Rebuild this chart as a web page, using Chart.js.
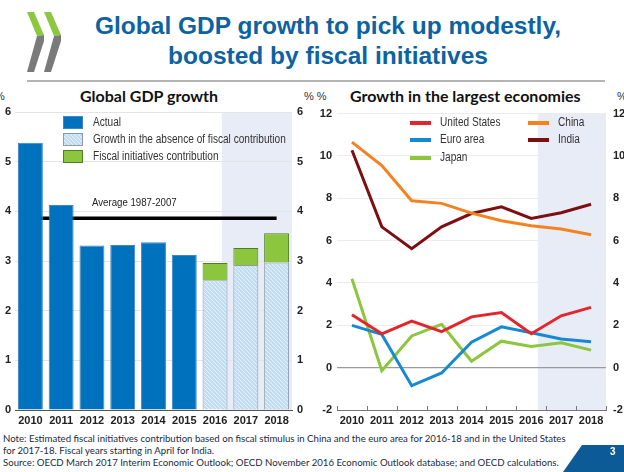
<!DOCTYPE html>
<html>
<head>
<meta charset="utf-8">
<script src="https://cdn.jsdelivr.net/npm/chart.js@4.4.1/dist/chart.umd.min.js"></script>
<style>
  body { margin:0; width:624px; height:472px; overflow:hidden; position:relative; background:#fff; font-family:'Liberation Sans', Arial, sans-serif; }
  .abs { position:absolute; white-space:nowrap; }
  #title { left:40px; width:576px; top:11px; text-align:center; color:#0d63a2; font:bold 24.5px/30px 'Liberation Sans', Arial, sans-serif; }
  #rule { left:27px; top:80px; width:578px; height:2px; background:#b4b4b4; }
  .sub { top:86px; font:bold 16px/20px Lato, 'Open Sans', sans-serif; color:#111; }
  .unit { top:90px; font:11px/12px 'Liberation Sans', sans-serif; color:#333; }
  .note { left:3px; font:9.65px/12px Lato, 'Noto Sans', sans-serif; color:#1c2a44; }
</style>
</head>
<body>
<svg class="abs" style="left:0;top:0" width="70" height="80">
  <polygon points="27,12 34,12 44,35 37,36" fill="#8dc63f"/>
  <polygon points="37,36 44,35 44,41 34,72 27,72" fill="#7a7a7a"/>
  <polygon points="44,12 51,12 61,35 54,36" fill="#8dc63f"/>
  <polygon points="54,36 61,35 61,41 51,72 44,72" fill="#7a7a7a"/>
</svg>
<div id="title" class="abs">Global GDP growth to pick up modestly,<br>boosted by fiscal initiatives</div>
<div id="rule" class="abs"></div>

<div class="abs sub" style="left:80px">Global GDP growth</div>
<div class="abs sub" style="left:350px">Growth in the largest economies</div>
<div class="abs unit" style="left:-5px">%</div>
<div class="abs unit" style="left:304px">% %</div>
<div class="abs unit" style="left:617px">%</div>

<canvas id="gdp" class="abs" style="left:0;top:100px"></canvas>
<canvas id="eco" class="abs" style="left:312px;top:100px"></canvas>

<div class="abs note" style="top:432px">Note: Estimated fiscal initiatives contribution based on fiscal stimulus in China and the euro area for 2016-18 and in the United States</div>
<div class="abs note" style="top:444px">for 2017-18. Fiscal years starting in April for India.</div>
<div class="abs note" style="top:456px">Source: OECD March 2017 Interim Economic Outlook; OECD November 2016 Economic Outlook database; and OECD calculations.</div>

<svg class="abs" style="left:0;top:0" width="624" height="472" pointer-events="none">
  <polygon points="582,445 624,445 624,472 563,472" fill="#0c5b96"/>
  <text x="610" y="455" fill="#fff" font-family="Liberation Sans, Arial" font-weight="bold" font-size="10">3</text>
</svg>

<script>
// ---- data ----
const years = ['2010', '2011', '2012', '2013', '2014', '2015', '2016', '2017', '2018'];

const actual   = [5.38, 4.13, 3.31, 3.32, 3.38, 3.12, null, null, null];
const noFiscal = [null, null, null, null, null, null, 2.61, 2.92, 2.97];
const fiscal   = [null, null, null, null, null, null, 0.35, 0.34, 0.59];
const avg8707  = [3.86, 3.86, 3.86, 3.86, 3.86, 3.86, 3.86, 3.86, 3.86];
const gdpTicks = [0, 1, 2, 3, 4, 5, 6];

const usa   = [2.5, 1.6, 2.2, 1.7, 2.4, 2.6, 1.6, 2.45, 2.85];
const euro  = [2.0, 1.57, -0.85, -0.25, 1.2, 1.93, 1.65, 1.35, 1.22];
const japan = [4.2, -0.15, 1.5, 2.05, 0.3, 1.25, 1.0, 1.18, 0.83];
const china = [10.65, 9.55, 7.88, 7.76, 7.3, 6.94, 6.7, 6.55, 6.28];
const india = [10.27, 6.65, 5.62, 6.65, 7.28, 7.6, 7.05, 7.32, 7.72];
const ecoTicks = [-2, 0, 2, 4, 6, 8, 10, 12];

const projFrom = 6.22; // projection shading starts a bit after 2016

const sans = "'Liberation Sans', Arial, sans-serif";
const tickFont = { family: sans, size: 11, weight: 'bold' };

// no narrow font installed: squeeze text horizontally instead
function narrowText(ctx, text, x, y) {
    ctx.save();
    ctx.translate(x, y);
    ctx.scale(0.84, 1);
    ctx.fillText(text, 0, 0);
    ctx.restore();
}

// light blue with fine diagonal hatching
function hatch(ctx) {
    const c = document.createElement('canvas');
    c.width = c.height = 4;
    const g = c.getContext('2d');
    g.fillStyle = '#c2ddf1';
    g.fillRect(0, 0, 4, 4);
    g.strokeStyle = 'rgba(255,255,255,0.6)';
    g.lineWidth = 1;
    g.beginPath(); g.moveTo(0, 0); g.lineTo(4, 4); g.stroke();
    return ctx.createPattern(c, 'repeat');
}

// shaded projection period
const shade = {
    id: 'shade',
    beforeDraw(chart) {
        const { ctx, chartArea: a, scales: { x } } = chart;
        const x0 = x.getPixelForValue(projFrom);
        ctx.save();
        ctx.fillStyle = '#e8ecf6';
        ctx.fillRect(x0, a.top, a.right - x0, a.bottom - a.top);
        ctx.restore();
    }
};

function yAxes(ticks, side, w, pad, grid) {
    return {
        position: side,
        min: ticks[0], max: ticks[ticks.length - 1],
        afterFit: s => { s.width = w; },
        afterBuildTicks: s => { s.ticks = ticks.map(v => ({ value: v })); },
        border: { display: false },
        grid: grid || { display: false, drawTicks: false },
        ticks: { font: tickFont, color: '#222', padding: pad }
    };
}

const xAxis = (borderColor, extra) => Object.assign({
    afterFit: s => { s.height = 22; },
    grid: { display: false, drawTicks: false },
    border: { display: true, color: borderColor, width: 1 },
    ticks: { font: tickFont, color: '#222', padding: 4, maxRotation: 0 }
}, extra);

// ---- left: global GDP growth ----
const gdpCanvas = document.getElementById('gdp');
gdpCanvas.width = 320; gdpCanvas.height = 332;
const gctx = gdpCanvas.getContext('2d');

const gdpLegend = {
    id: 'gdpLegend',
    afterDraw(chart) {
        const { ctx } = chart;
        ctx.save();
        ctx.font = '12px ' + sans;
        ctx.textBaseline = 'middle';
        chart.data.datasets.slice(0, 3).forEach((d, i) => {
            const y = 16 + i * 17;
            ctx.fillStyle = d.backgroundColor;
            ctx.fillRect(63, y, 20, 13);
            ctx.strokeStyle = d.borderColor;
            ctx.lineWidth = 1;
            ctx.strokeRect(63.5, y + 0.5, 19, 12);
            ctx.fillStyle = '#333';
            narrowText(ctx, d.label, 93, y + 7);
        });
        // average label
        const x = chart.scales.x.getPixelForValue(2);
        const y = chart.scales.y.getPixelForValue(avg8707[0]) - 15;
        ctx.fillStyle = '#222';
        ctx.font = '11.5px ' + sans;
        narrowText(ctx, 'Average 1987-2007', x, y);
        ctx.restore();
    }
};

new Chart(gctx, {
    data: {
        labels: years,
        datasets: [
            { type: 'bar', label: 'Actual', data: actual, stack: 'g',
              backgroundColor: '#0071bc', borderColor: '#3f86c4', borderWidth: 1 },
            { type: 'bar', label: 'Growth in the absence of fiscal contribution', data: noFiscal, stack: 'g',
              backgroundColor: hatch(gctx), borderColor: '#8b9aa8', borderWidth: 1 },
            { type: 'bar', label: 'Fiscal initiatives contribution', data: fiscal, stack: 'g',
              backgroundColor: '#8cc63f', borderColor: '#4f7d22', borderWidth: 1 },
            { type: 'line', label: 'Average 1987-2007', data: avg8707, stack: 'a',
              borderColor: '#000', borderWidth: 3.5, pointRadius: 0, borderCapStyle: 'butt' }
        ]
    },
    options: {
        responsive: false,
        animation: false,
        layout: { padding: { top: 12 } },
        barPercentage: 0.81,
        categoryPercentage: 1,
        plugins: { legend: { display: false }, tooltip: { enabled: false } },
        scales: {
            x: xAxis('#555', { stacked: true }),
            y: Object.assign(yAxes(gdpTicks, 'left', 15, 4, { color: '#e4e4e4', drawTicks: false }), { stacked: true }),
            y2: yAxes(gdpTicks, 'right', 28, 5)
        }
    },
    plugins: [shade, gdpLegend]
});

// ---- right: growth in the largest economies ----
const ecoCanvas = document.getElementById('eco');
ecoCanvas.width = 312; ecoCanvas.height = 332;
const ectx = ecoCanvas.getContext('2d');

const ecoLegend = {
    id: 'ecoLegend',
    afterDraw(chart) {
        const { ctx, chartArea: a, scales: { x } } = chart;
        ctx.save();
        // small upward ticks between categories
        ctx.strokeStyle = '#777';
        ctx.lineWidth = 1;
        for (let i = 0; i <= years.length; i++) {
            const px = Math.round(x.getPixelForValue(i - 0.5)) + 0.5;
            ctx.beginPath(); ctx.moveTo(px, a.bottom); ctx.lineTo(px, a.bottom - 4); ctx.stroke();
        }
        ctx.font = '12px ' + sans;
        ctx.textBaseline = 'middle';
        const pos = [[98, 23], [98, 40], [98, 58], [216, 23], [216, 40]];
        chart.data.datasets.forEach((d, i) => {
            const [lx, ly] = pos[i];
            ctx.fillStyle = d.borderColor;
            ctx.fillRect(lx, ly - 2, 21, 4);
            ctx.fillStyle = '#333';
            narrowText(ctx, d.label, lx + 30, ly);
        });
        ctx.restore();
    }
};

const lineDs = (label, data, color) => ({
    label, data, borderColor: color, backgroundColor: color,
    borderWidth: 3, pointRadius: 0, tension: 0
});

new Chart(ectx, {
    type: 'line',
    data: {
        labels: years,
        datasets: [
            lineDs('United States', usa, '#e3262d'),
            lineDs('Euro area', euro, '#1689d0'),
            lineDs('Japan', japan, '#8cc63f'),
            lineDs('China', china, '#f5821f'),
            lineDs('India', india, '#7d0f12')
        ]
    },
    options: {
        responsive: false,
        animation: false,
        layout: { padding: { top: 12 } },
        plugins: { legend: { display: false }, tooltip: { enabled: false } },
        scales: {
            x: xAxis('#777', { offset: true }),
            y: yAxes(ecoTicks, 'left', 25, 5, {
                color: c => c.tick && c.tick.value === 0 ? '#9a9a9a' : '#ececec',
                lineWidth: c => c.tick && c.tick.value === 0 ? 1.3 : 1,
                drawTicks: false
            }),
            y2: yAxes(ecoTicks, 'right', 18, 7)
        }
    },
    plugins: [shade, ecoLegend]
});
</script>
</body>
</html>
